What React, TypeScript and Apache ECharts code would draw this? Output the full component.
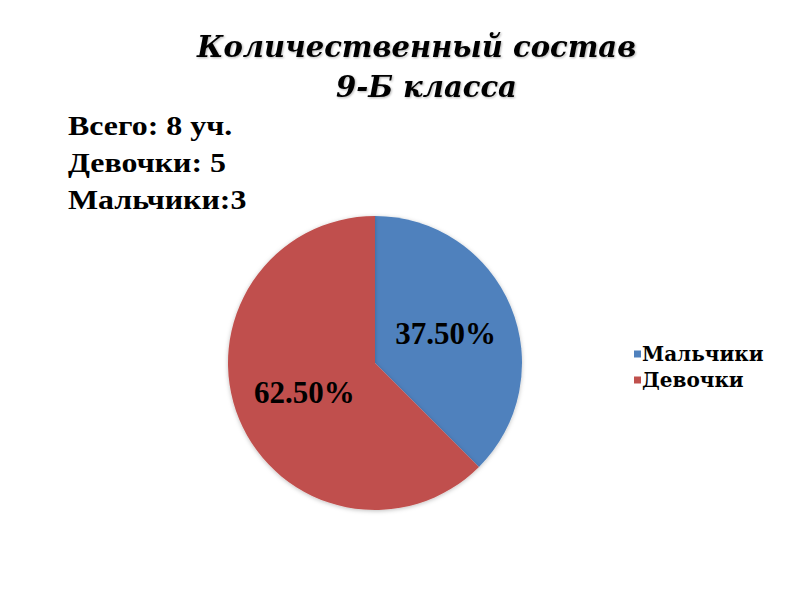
import React, { useEffect, useRef } from "react";
import * as echarts from "echarts";

const categories = ["Мальчики", "Девочки"];
const values = [3, 5];
const colors = ["#4F81BD", "#C0504D"];
const titleLines = ["Количественный состав", "9-Б класса"];
const infoLines = ["Всего: 8 уч.", "Девочки: 5", "Мальчики:3"];

export default function App() {
  const ref = useRef<HTMLDivElement>(null);
  useEffect(() => {
    if (!ref.current) return;
    const chart = echarts.init(ref.current, null, { renderer: "svg" });
    const total = values.reduce((a, b) => a + b, 0);
    const titleStyle = {
      fontFamily: "DejaVu Serif",
      fontStyle: "italic",
      fontWeight: "bold",
      fontSize: 29,
      fill: "#000",
      textShadowBlur: 2,
      textShadowColor: "rgba(0,0,0,0.3)",
      textShadowOffsetX: 1,
      textShadowOffsetY: 1,
    };
    chart.setOption({
      animation: false,
      backgroundColor: "#ffffff",
      graphic: [
        {
          type: "text",
          x: 197,
          y: 32,
          style: { ...titleStyle, text: titleLines[0] },
        },
        {
          type: "text",
          x: 336,
          y: 72,
          style: { ...titleStyle, text: titleLines[1] },
        },
        ...infoLines.map((t, i) => ({
          type: "text",
          x: 68,
          y: 111 + i * 37,
          scaleX: 1.14,
          style: {
            text: t,
            fontFamily: "Liberation Serif",
            fontWeight: "bold",
            fontSize: 28,
            fill: "#000",
          },
        })),
      ],
      legend: {
        orient: "vertical",
        left: 629,
        top: 339,
        itemWidth: 7,
        itemHeight: 7,
        itemGap: 6,
        icon: "rect",
        textStyle: {
          fontFamily: "DejaVu Serif",
          fontWeight: "bold",
          fontSize: 20,
          color: "#000",
          padding: [0, 0, 0, -4],
        },
        data: categories,
      },
      series: [
        {
          type: "pie",
          center: [375, 363],
          radius: 147,
          startAngle: 90,
          clockwise: true,
          data: categories.map((c, i) => ({
            name: c,
            value: values[i],
            itemStyle: { color: colors[i] },
          })),
          label: {
            show: true,
            position: "inside",
            formatter: (p: any) => ((p.value / total) * 100).toFixed(2) + "%",
            fontFamily: "Liberation Serif",
            fontWeight: "bold",
            fontSize: 31,
            color: "#000",
          },
          labelLine: { show: false },
          emphasis: { disabled: true },
          itemStyle: {
            shadowBlur: 4,
            shadowColor: "rgba(0,0,0,0.25)",
            shadowOffsetY: 1,
          },
        },
      ],
    });
    return () => chart.dispose();
  }, []);
  return (
    <div
      ref={ref}
      style={{ position: "fixed", left: 0, top: 0, width: 800, height: 600 }}
    />
  );
}
